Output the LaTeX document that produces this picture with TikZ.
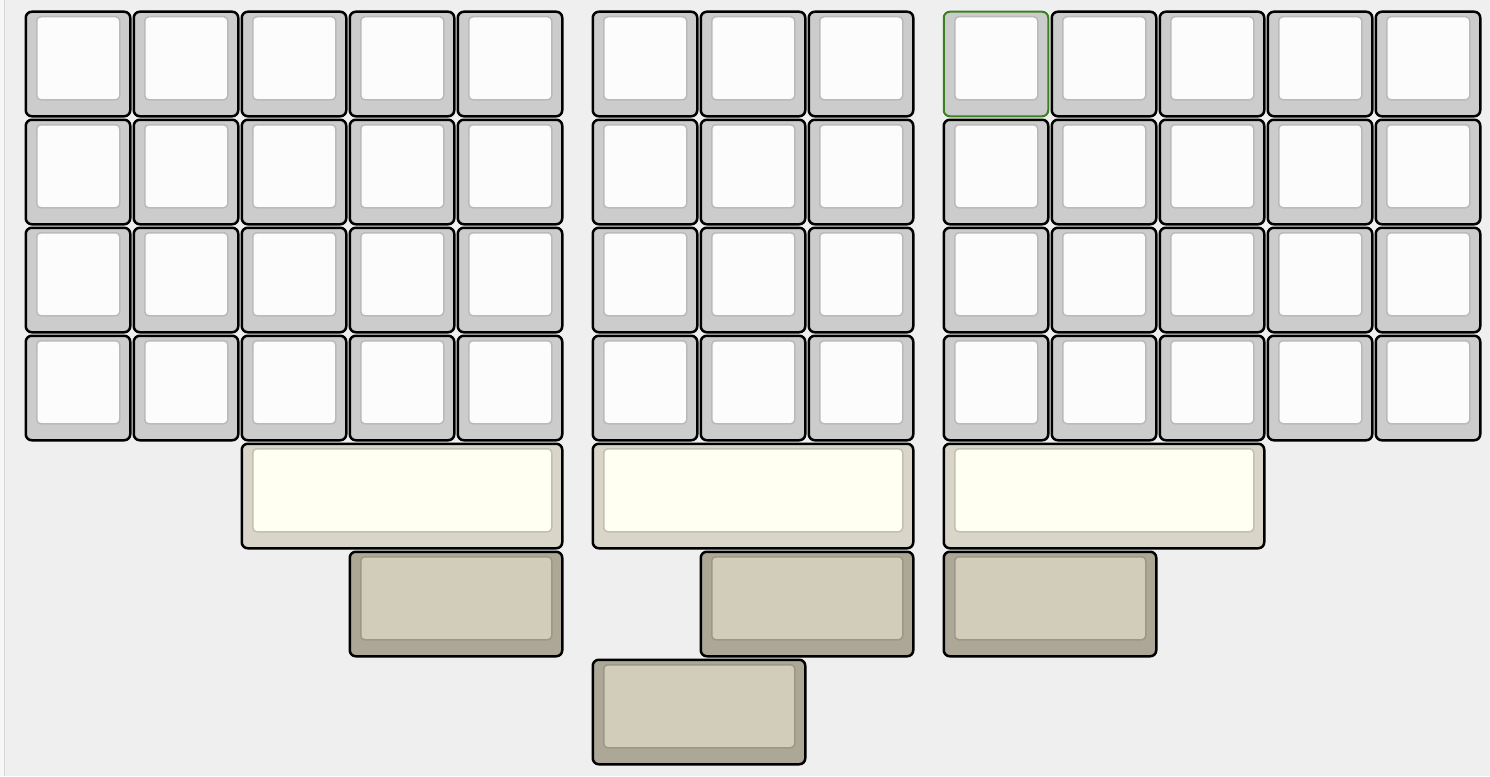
\documentclass[tikz,border=0pt]{standalone}
\usepackage{tikz}
\definecolor{bgc}{HTML}{EFEFEF}
\definecolor{bgedge}{HTML}{F7F7F7}
\definecolor{bgline}{HTML}{D6D6D6}
\definecolor{kgray}{HTML}{CCCCCC}
\definecolor{kin}{HTML}{FCFCFC}
\definecolor{kinbd}{HTML}{BABABA}
\definecolor{tgray}{HTML}{D9D5C8}
\definecolor{tin}{HTML}{FFFFF2}
\definecolor{tinbd}{HTML}{C4C0B0}
\definecolor{bgray}{HTML}{ACA796}
\definecolor{bin}{HTML}{D2CDBB}
\definecolor{binbd}{HTML}{9C9886}
\definecolor{kgreen}{HTML}{3C8023}
\tikzset{
  keybase/.style={rectangle, inner sep=0pt, outer sep=0pt, rounded corners=6pt, line width=2.5pt},
  inbase/.style={rectangle, inner sep=0pt, outer sep=0pt, rounded corners=4pt, line width=1.5pt},
  uout/.style={keybase, draw=black, fill=kgray},
  uin/.style={inbase, draw=kinbd, fill=kin},
  gout/.style={keybase, draw=kgreen, line width=2pt, fill=kgray},
  gin/.style={inbase, draw=kinbd, fill=kin},
  tout/.style={keybase, draw=black, fill=tgray},
  tin/.style={inbase, draw=tinbd, fill=tin},
  bout/.style={keybase, draw=black, fill=bgray},
  bin/.style={inbase, draw=binbd, fill=bin},
}
\newcommand\kbkey[6]{%
  \pgfmathsetmacro\kbWa{108*#4-3.5}%
  \pgfmathsetmacro\kbHa{108*#5-3.5}%
  \pgfmathsetmacro\kbWb{108*#4-25}%
  \pgfmathsetmacro\kbHb{108*#5-25}%
  \node[#6out, anchor=north west, minimum width=\kbWa pt, minimum height=\kbHa pt] (#1) at (#2+0.75,#3+0.75) {};
  \node[#6in, anchor=north west, minimum width=\kbWb pt, minimum height=\kbHb pt] (#1in) at (#2+11.75,#3+5.75) {};
}
\begin{document}
\begin{tikzpicture}[x=1pt,y=-1pt]
\useasboundingbox (0,0) rectangle (1490,776);
\fill[bgc] (0,0) rectangle (1490,776);
\fill[bgedge] (0,0) rectangle (4,776);
\draw[bgline, line width=1pt] (4.5,0) -- (4.5,776);
\foreach \r in {0,1,2,3}{
  \foreach \c in {0,...,4}{
    \kbkey{L\r\c}{25+108*\c}{11+108*\r}{1}{1}{u}
  }
  \foreach \c in {0,1,2}{
    \kbkey{M\r\c}{592+108*\c}{11+108*\r}{1}{1}{u}
  }
}
\foreach \r in {0,1,2,3}{
  \foreach \c in {0,...,4}{
    \ifnum\r=0 \ifnum\c=0
      \kbkey{R\r\c}{943+108*\c}{11+108*\r}{1}{1}{g}
    \else
      \kbkey{R\r\c}{943+108*\c}{11+108*\r}{1}{1}{u}
    \fi\else
      \kbkey{R\r\c}{943+108*\c}{11+108*\r}{1}{1}{u}
    \fi
  }
}
\kbkey{LT}{241}{443}{3}{1}{t}
\kbkey{MT}{592}{443}{3}{1}{t}
\kbkey{RT}{943}{443}{3}{1}{t}
\kbkey{LB}{349}{551}{2}{1}{b}
\kbkey{MB}{700}{551}{2}{1}{b}
\kbkey{RB}{943}{551}{2}{1}{b}
\kbkey{CB}{592}{659}{2}{1}{b}
\end{tikzpicture}
\end{document}
